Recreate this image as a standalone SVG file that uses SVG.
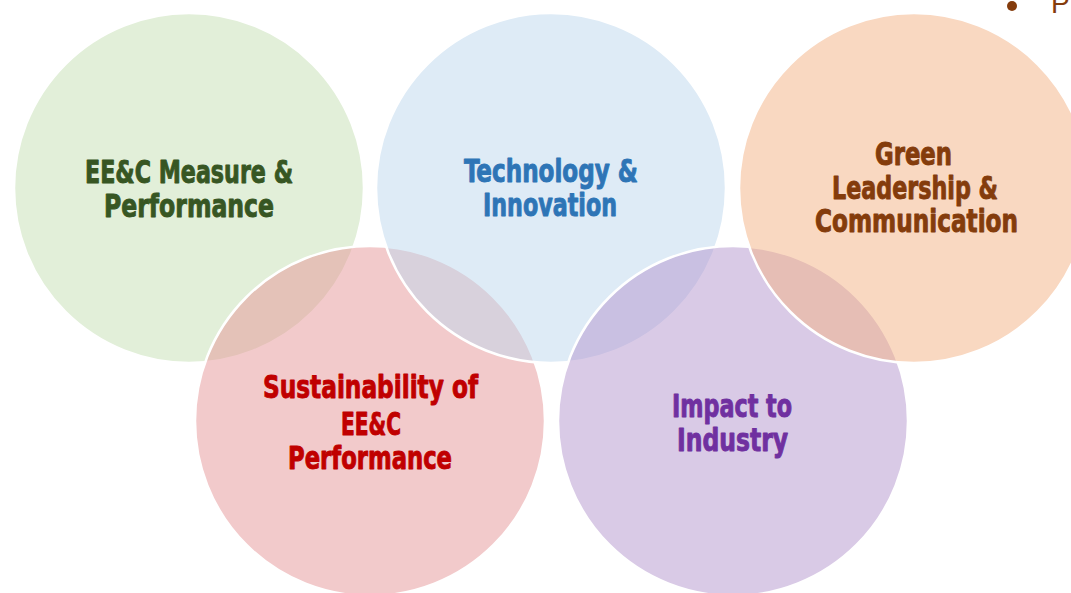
<svg xmlns="http://www.w3.org/2000/svg" width="1071" height="593" viewBox="0 0 1071 593">
<style>
.c{stroke:#FFFFFF;stroke-width:2.5;fill-opacity:0.5}
.t{font-family:"Liberation Sans Narrow","DejaVu Sans Condensed","Liberation Sans",sans-serif;font-weight:bold;font-size:32px;text-anchor:middle;stroke-width:0.9;stroke-linejoin:round}
</style>
<rect width="1071" height="593" fill="#FFFFFF"/>
<g id="connectors"></g>
<g id="node-measure">
<circle class="c" cx="189" cy="188" r="175" fill="#C5E0B4"/>
</g>
<g id="node-sustainability">
<circle class="c" cx="370" cy="421" r="175" fill="#E59597"/>
</g>
<g id="node-technology">
<circle class="c" cx="551" cy="188" r="175" fill="#BDD7EE"/>
</g>
<g id="node-impact">
<circle class="c" cx="733" cy="421" r="175" fill="#B395CD"/>
</g>
<g id="node-leadership">
<circle class="c" cx="914" cy="188" r="175" fill="#F4B183"/>
</g>
<g id="labels">
<text class="t" fill="#375623" stroke="#375623"><tspan x="189" y="183" textLength="208" lengthAdjust="spacingAndGlyphs">EE&amp;C Measure &amp;</tspan><tspan x="189" y="217" textLength="170" lengthAdjust="spacingAndGlyphs">Performance</tspan></text>
<text class="t" fill="#2E75B6" stroke="#2E75B6"><tspan x="551" y="182" textLength="174" lengthAdjust="spacingAndGlyphs">Technology &amp;</tspan><tspan x="550" y="216" textLength="134" lengthAdjust="spacingAndGlyphs">Innovation</tspan></text>
<text class="t" fill="#843C0C" stroke="#843C0C"><tspan x="913.5" y="165" textLength="77" lengthAdjust="spacingAndGlyphs">Green</tspan><tspan x="915" y="199" textLength="166" lengthAdjust="spacingAndGlyphs">Leadership &amp;</tspan><tspan x="916.5" y="232" textLength="203" lengthAdjust="spacingAndGlyphs">Communication</tspan></text>
<text class="t" fill="#C00000" stroke="#C00000"><tspan x="370.5" y="398" textLength="215" lengthAdjust="spacingAndGlyphs">Sustainability of</tspan><tspan x="371" y="435" textLength="60" lengthAdjust="spacingAndGlyphs">EE&amp;C</tspan><tspan x="370" y="469" textLength="164" lengthAdjust="spacingAndGlyphs">Performance</tspan></text>
<text class="t" fill="#7030A0" stroke="#7030A0"><tspan x="732" y="417" textLength="120" lengthAdjust="spacingAndGlyphs">Impact to</tspan><tspan x="732.5" y="451" textLength="111" lengthAdjust="spacingAndGlyphs">Industry</tspan></text>
</g>
<g id="bullet">
<circle cx="1012" cy="6" r="5" fill="#843C0C"/>
<text x="1051" y="13" font-family="Liberation Sans, sans-serif" font-size="28" fill="#843C0C">P</text>
</g>
</svg>
